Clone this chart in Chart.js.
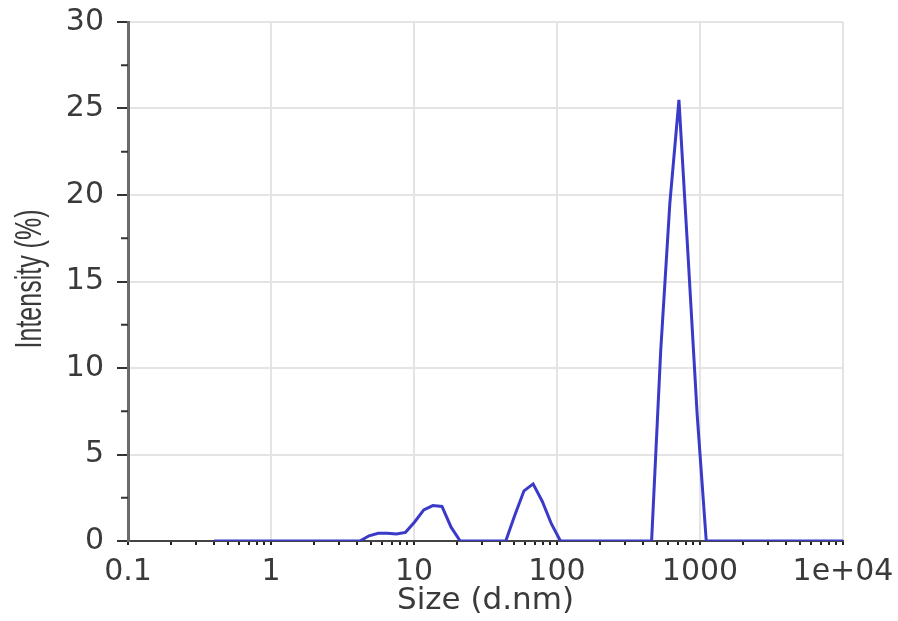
<!DOCTYPE html>
<html>
<head>
<meta charset="utf-8">
<title>Size distribution by intensity</title>
<script src="https://cdn.jsdelivr.net/npm/chart.js@4/dist/chart.umd.min.js"></script>
<style>
  body { margin: 0; background: #fff; }
  canvas { display: block; }
</style>
</head>
<body>
<canvas id="grafico" width="898" height="621"></canvas>
<script>
// size bins (d.nm) and intensity (%)
const sizes = [0.4, 0.4632, 0.5365, 0.6213, 0.7195, 0.8332, 0.9649, 1.117, 1.294, 1.499,
  1.736, 2.01, 2.328, 2.696, 3.122, 3.615, 4.187, 4.849, 5.615, 6.503,
  7.531, 8.721, 10.1, 11.7, 13.54, 15.69, 18.17, 21.04, 24.36, 28.21,
  32.67, 37.84, 43.82, 50.75, 58.77, 68.06, 78.82, 91.28, 105.7, 122.4,
  141.8, 164.2, 190.1, 220.2, 255, 295.3, 342, 396.1, 458.7, 531.2,
  615.1, 712.4, 825, 955.4, 1106, 1281, 1484, 1718, 1990, 2305,
  2669, 3091, 3580, 4145, 4801, 5560, 6439, 7456, 8635, 10000];
const intensity = [0, 0, 0, 0, 0, 0, 0, 0, 0, 0,
  0, 0, 0, 0, 0, 0, 0, 0.3, 0.45, 0.45,
  0.4, 0.5, 1.1, 1.8, 2.05, 2.0, 0.8, 0, 0, 0,
  0, 0, 0, 1.5, 2.9, 3.3, 2.3, 1.0, 0, 0,
  0, 0, 0, 0, 0, 0, 0, 0, 0, 11,
  19.5, 25.5, 16.5, 7.3, 0, 0, 0, 0, 0, 0,
  0, 0, 0, 0, 0, 0, 0, 0, 0, 0];
const xTicks = [0.1, 1, 10, 100, 1000, 10000];
const xTickLabels = ['0.1', '1', '10', '100', '1000', '1e+04'];
const yTicks = [0, 5, 10, 15, 20, 25, 30];
const yTitle = 'Intensity (%)';

const esDecada = v => Math.abs(Math.log10(v) - Math.round(Math.log10(v))) < 1e-9;

// small ticks on the y axis (2.5, 7.5, ...) and the tall narrow y title
const extras = {
  id: 'extras',
  afterDraw(chart) {
    const ctx = chart.ctx;
    const y = chart.scales.y;
    ctx.save();
    ctx.strokeStyle = '#333';
    ctx.lineWidth = 2;
    for (let i = 0; i < yTicks.length - 1; i++) {
      const py = y.getPixelForValue((yTicks[i] + yTicks[i + 1]) / 2);
      ctx.beginPath();
      ctx.moveTo(y.right - 7, py);
      ctx.lineTo(y.right, py);
      ctx.stroke();
    }
    ctx.restore();

    ctx.save();
    ctx.translate(31, 279);
    ctx.rotate(-Math.PI / 2);
    ctx.scale(1, 1.5);
    ctx.font = "25px 'Liberation Sans', Arial, sans-serif";
    ctx.fillStyle = '#3a3a3a';
    ctx.textAlign = 'center';
    ctx.textBaseline = 'middle';
    ctx.fillText(yTitle, 0, 0);
    ctx.restore();
  }
};

document.addEventListener('DOMContentLoaded', () => {
  const ctx = document.getElementById('grafico').getContext('2d');
  new Chart(ctx, {
    type: 'line',
    data: {
      datasets: [{
        label: 'Intensity',
        data: sizes.map((s, i) => ({ x: s, y: intensity[i] })),
        borderColor: '#3a3ac8',
        borderWidth: 3,
        pointRadius: 0,
        tension: 0,
        fill: false
      }]
    },
    options: {
      responsive: false,
      animation: false,
      layout: { padding: { top: 22, right: 55, left: 0, bottom: 0 } },
      plugins: { legend: { display: false }, tooltip: { enabled: false } },
      scales: {
        x: {
          type: 'logarithmic',
          min: 0.1,
          max: 10000,
          afterBuildTicks(scale) {
            const t = [];
            for (let d = 0.1; d < 5000; d *= 10) {
              for (let k = 1; k < 10; k++) t.push({ value: +(d * k).toPrecision(6) });
            }
            t.push({ value: 10000 });
            scale.ticks = t;
          },
          afterFit(scale) {
            scale.height = 80;
            scale.paddingLeft = 0;
            scale.paddingRight = 0;
          },
          border: { color: '#444', width: 2 },
          grid: {
            color: c => (c.tick && esDecada(c.tick.value)) ? '#e4e4e4' : 'rgba(0,0,0,0)',
            lineWidth: 2,
            tickLength: 4,
            tickColor: '#222',
            tickWidth: 2
          },
          ticks: {
            autoSkip: false,
            maxRotation: 0,
            padding: 9,
            color: '#3a3a3a',
            font: { family: "'DejaVu Sans', sans-serif", size: 30 },
            callback: v => {
              const i = xTicks.findIndex(t => Math.abs(t - v) / t < 1e-6);
              return i >= 0 ? xTickLabels[i] : '';
            }
          },
          title: {
            display: true,
            text: 'Size (d.nm)',
            color: '#3a3a3a',
            font: { family: "'DejaVu Sans', sans-serif", size: 31 },
            padding: { top: 0, bottom: 1 }
          }
        },
        y: {
          min: 0,
          max: 30,
          afterBuildTicks(scale) { scale.ticks = yTicks.map(v => ({ value: v })); },
          afterFit(scale) {
            scale.width = 128;
            scale.paddingTop = 0;
            scale.paddingBottom = 0;
          },
          border: { color: '#6a6a6a', width: 3 },
          grid: {
            color: '#e4e4e4',
            lineWidth: 2,
            tickLength: 11,
            tickColor: '#333',
            tickWidth: 2
          },
          ticks: {
            padding: 13,
            color: '#3a3a3a',
            font: { family: "'DejaVu Sans', sans-serif", size: 30 }
          }
        }
      }
    },
    plugins: [extras]
  });
});
</script>
</body>
</html>
